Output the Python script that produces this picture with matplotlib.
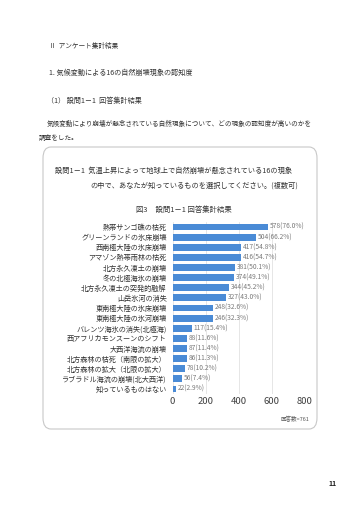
import matplotlib
matplotlib.use("Agg")
import matplotlib.pyplot as plt
from matplotlib.patches import FancyBboxPatch

plt.rcParams['font.family'] = ['Noto Sans CJK JP', 'DejaVu Sans']

categories = [
    "熱帯サンゴ礁の枯死",
    "グリーンランドの氷床崩壊",
    "西南極大陸の氷床崩壊",
    "アマゾン熱帯雨林の枯死",
    "北方永久凍土の崩壊",
    "冬の北極海氷の崩壊",
    "北方永久凍土の突発的融解",
    "山岳氷河の消失",
    "東南極大陸の氷床崩壊",
    "東南極大陸の氷河崩壊",
    "バレンツ海氷の消失(北極海)",
    "西アフリカモンスーンのシフト",
    "大西洋海流の崩壊",
    "北方森林の枯死（南限の拡大）",
    "北方森林の拡大（北限の拡大）",
    "ラブラドル海流の崩壊(北大西洋)",
    "知っているものはない",
]
counts = [578, 504, 417, 416, 381, 374, 344, 327, 248, 246, 117, 88, 87, 86, 78, 56, 22]
percents = [76.0, 66.2, 54.8, 54.7, 50.1, 49.1, 45.2, 43.0, 32.6, 32.3, 15.4, 11.6, 11.4, 11.3, 10.2, 7.4, 2.9]
xticks = [0, 200, 400, 600, 800]

W, H = 360, 509
fig = plt.figure(figsize=(W / 100, H / 100), dpi=100)
fig.patch.set_facecolor("white")

def fx(px):
    return px / W

def fy(py):
    return 1 - py / H

txt = "#333333"
# Page headings
fig.text(fx(49), fy(46), "Ⅱ  アンケート集計結果", fontsize=4.8, color=txt, va="center")
fig.text(fx(49), fy(73), "1. 気候変動による16の自然崩壊現象の認知度", fontsize=5.1, color=txt, va="center")
fig.text(fx(47), fy(101), "（1） 設問1－1  回答集計結果", fontsize=5.1, color=txt, va="center")
fig.text(fx(47), fy(124), "気候変動により崩壊が懸念されている自然現象について、どの現象の認知度が高いのかを",
         fontsize=4.75, color=txt, va="center")
fig.text(fx(39), fy(138), "調査をした。", fontsize=4.75, color=txt, va="center")

# Rounded box
box = FancyBboxPatch((fx(43), fy(429)), fx(317) - fx(43), fy(147) - fy(429),
                     boxstyle="round,pad=0,rounding_size=0.022",
                     transform=fig.transFigure, fill=False, edgecolor="#c8c8c8", linewidth=0.8)
fig.add_artist(box)

fig.text(fx(55), fy(171), "設問1－1  気温上昇によって地球上で自然崩壊が懸念されている16の現象",
         fontsize=5.2, color=txt, va="center")
fig.text(fx(90), fy(186), "の中で、あなたが知っているものを選択してください。(複数可)",
         fontsize=5.2, color=txt, va="center")
fig.text(fx(184), fy(210), "図3     設問1－1 回答集計結果", fontsize=5.3, color=txt, va="center", ha="center")

# Chart axes
ax_left, ax_right = 172.5, 304.5
ax_top, ax_bot = 222, 394
ax = fig.add_axes([fx(ax_left), fy(ax_bot), fx(ax_right) - fx(ax_left), (ax_bot - ax_top) / H])
n = len(categories)
ypos = list(range(n))
ax.barh(ypos, counts, height=0.68, color="#4a8bd6", zorder=3)
ax.set_xlim(0, 800)
ax.set_ylim(n - 0.5, -0.5)
ax.set_yticks(ypos)
ax.set_yticklabels(categories, fontsize=5.15, color=txt)
ax.set_xticks(xticks)
ax.set_xticklabels([str(v) for v in xticks], fontsize=6.8, color="#404040")
ax.tick_params(axis="y", length=0, pad=4.2)
ax.tick_params(axis="x", length=0, pad=2.5)
for s in ax.spines.values():
    s.set_visible(False)
ax.grid(axis="x", color="#dcdcdc", linewidth=0.5, zorder=0)
ax.set_facecolor("none")
for y, c, p in zip(ypos, counts, percents):
    ax.annotate(f"{c}({p:.1f}%)", (c, y), xytext=(1.2, 0), textcoords="offset points",
                fontsize=4.8, color="#7a7a7a", va="center", ha="left")

fig.text(fx(309), fy(419), "回答数=761", fontsize=4.0, color="#555555", va="center", ha="right")
fig.text(fx(333), fy(483), "11", fontsize=5.0, color="#222222", va="center", ha="center", fontweight="bold")

fig.savefig("out.png", dpi=100, facecolor="white")
